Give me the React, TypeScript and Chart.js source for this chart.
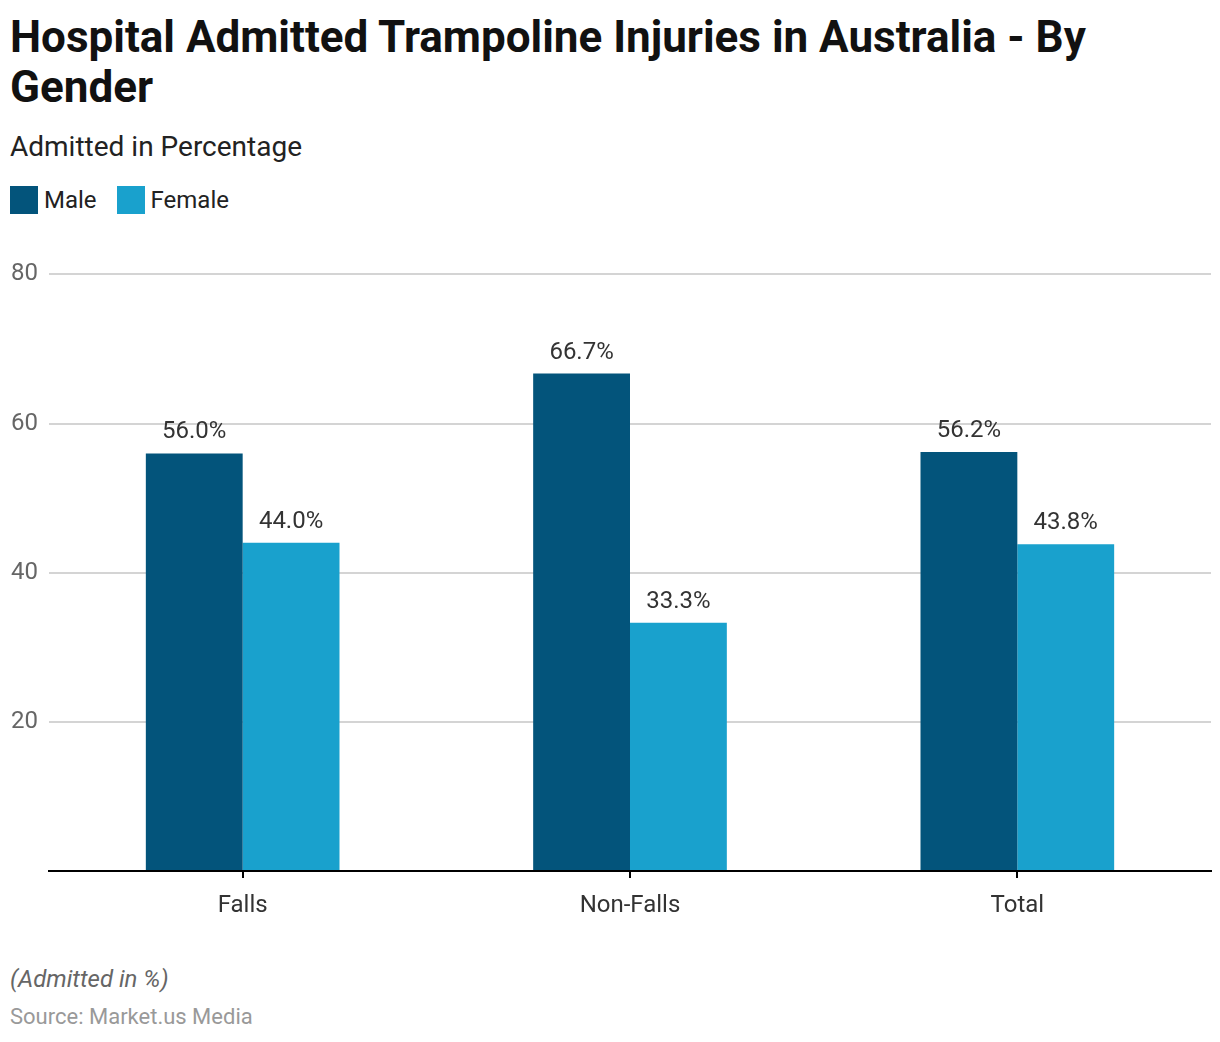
import React, { useEffect, useRef } from "react";
import { Chart, registerables } from "chart.js";

Chart.register(...registerables);

const categories = ["Falls", "Non-Falls", "Total"];
const maleValues = [56.0, 66.7, 56.2];
const femaleValues = [44.0, 33.3, 43.8];
const seriesNames = ["Male", "Female"];
const yTicks = [0, 20, 40, 60, 80];

const MALE = "#03547b";
const FEMALE = "#19a1cd";
const FONT = "Roboto, 'Noto Sans', sans-serif";

const valueLabels = {
  id: "valueLabels",
  afterDatasetsDraw(chart: any) {
    const ctx = chart.ctx;
    ctx.save();
    ctx.font = `24px ${FONT}`;
    ctx.fillStyle = "#333333";
    ctx.textAlign = "center";
    ctx.textBaseline = "alphabetic";
    chart.data.datasets.forEach((ds: any, i: number) => {
      const meta = chart.getDatasetMeta(i);
      meta.data.forEach((bar: any, j: number) => {
        ctx.fillText(`${Number(ds.data[j]).toFixed(1)}%`, bar.x, bar.y - 15);
      });
    });
    ctx.restore();
  },
};

export default function App() {
  const ref = useRef<HTMLCanvasElement | null>(null);

  useEffect(() => {
    if (!ref.current) return;
    const chart = new Chart(ref.current, {
      type: "bar",
      data: {
        labels: categories,
        datasets: [
          { label: seriesNames[0], data: maleValues, backgroundColor: MALE },
          { label: seriesNames[1], data: femaleValues, backgroundColor: FEMALE },
        ],
      },
      options: {
        animation: false,
        responsive: false,
        maintainAspectRatio: false,
        layout: { padding: { top: 22, right: 9, left: 0, bottom: 0 } },
        datasets: { bar: { categoryPercentage: 0.5, barPercentage: 1.0 } },
        plugins: {
          legend: { display: false },
          tooltip: { enabled: false },
          title: { display: false },
        },
        scales: {
          x: {
            grid: {
              display: true,
              drawOnChartArea: false,
              drawTicks: true,
              tickLength: 7,
              offset: false,
              color: "#000000",
              lineWidth: 2,
            },
            border: { display: true, color: "#000000", width: 2 },
            ticks: {
              color: "#333333",
              font: { family: FONT, size: 24 },
              padding: 14,
            },
            afterFit: (s: any) => {
              s.height = 58;
            },
          },
          y: {
            min: 0,
            max: 80,
            afterBuildTicks: (s: any) => {
              s.ticks = yTicks.map((v) => ({ value: v }));
            },
            grid: {
              drawTicks: false,
              color: (c: any) => (c.tick && c.tick.value === 0 ? "rgba(0,0,0,0)" : "#d4d4d4"),
              lineWidth: 2,
            },
            border: { display: false },
            ticks: {
              color: "#666666",
              font: { family: FONT, size: 24 },
              padding: 11,
              callback: (v: any) => (v === 0 ? "" : String(v)),
            },
            afterFit: (s: any) => {
              s.width = 49;
            },
          },
        },
      },
      plugins: [valueLabels],
    });
    return () => chart.destroy();
  }, []);

  return (
    <div
      style={{
        position: "absolute",
        left: 0,
        top: 0,
        width: 1220,
        height: 1042,
        background: "#ffffff",
        fontFamily: FONT,
        overflow: "hidden",
      }}
    >
      <div
        style={{
          position: "absolute",
          left: 10,
          top: 12,
          width: 1180,
          fontSize: 44,
          fontWeight: 700,
          lineHeight: "50px",
          color: "#111111",
        }}
      >
        Hospital Admitted Trampoline Injuries in Australia - By Gender
      </div>
      <div
        style={{
          position: "absolute",
          left: 10,
          top: 130,
          fontSize: 28,
          lineHeight: "34px",
          color: "#222222",
        }}
      >
        Admitted in Percentage
      </div>
      <div
        style={{
          position: "absolute",
          left: 10,
          top: 186,
          display: "flex",
          alignItems: "center",
          fontSize: 24,
          color: "#222222",
        }}
      >
        {seriesNames.map((n, i) => (
          <div key={n} style={{ display: "flex", alignItems: "center", marginRight: 20 }}>
            <span
              style={{
                display: "inline-block",
                width: 28,
                height: 28,
                background: i === 0 ? MALE : FEMALE,
                marginRight: 6,
              }}
            />
            <span style={{ lineHeight: "28px" }}>{n}</span>
          </div>
        ))}
      </div>
      <canvas
        ref={ref}
        width={1220}
        height={680}
        style={{ position: "absolute", left: 0, top: 249, width: 1220, height: 680 }}
      />
      <div
        style={{
          position: "absolute",
          left: 10,
          top: 964,
          fontSize: 24,
          fontStyle: "italic",
          color: "#666666",
          lineHeight: "30px",
        }}
      >
        (Admitted in %)
      </div>
      <div
        style={{
          position: "absolute",
          left: 10,
          top: 1003,
          fontSize: 22,
          color: "#999999",
          lineHeight: "28px",
        }}
      >
        Source: Market.us Media
      </div>
    </div>
  );
}
